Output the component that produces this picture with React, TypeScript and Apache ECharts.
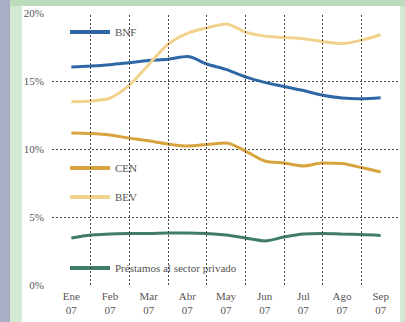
import React, { useEffect, useRef } from "react";
import * as echarts from "echarts";

// Month labels (category axis)
const months = ["Ene\n07", "Feb\n07", "Mar\n07", "Abr\n07", "May\n07", "Jun\n07", "Jul\n07", "Ago\n07", "Sep\n07"];

// Half-month sampling positions, in month units from Ene 07
const steps = [0, 0.5, 1, 1.5, 2, 2.5, 3, 3.5, 4, 4.5, 5, 5.5, 6, 6.5, 7, 7.5, 8];

// Boundaries between consecutive months on the 0..9 value axis
const monthBoundaries = [1, 2, 3, 4, 5, 6, 7, 8];

// Series values, in percent
const bnf = [16.03, 16.1, 16.2, 16.35, 16.5, 16.6, 16.8, 16.25, 15.85, 15.3, 14.9, 14.6, 14.3, 13.95, 13.75, 13.7, 13.77];
const bev = [13.48, 13.53, 13.75, 14.7, 16.2, 17.7, 18.5, 18.9, 19.2, 18.6, 18.3, 18.2, 18.1, 17.9, 17.75, 18.0, 18.4];
const cen = [11.18, 11.14, 11.03, 10.8, 10.6, 10.37, 10.22, 10.33, 10.44, 9.85, 9.12, 8.97, 8.75, 8.97, 8.93, 8.64, 8.31];
const privados = [3.46, 3.68, 3.75, 3.79, 3.79, 3.82, 3.82, 3.79, 3.68, 3.46, 3.24, 3.53, 3.75, 3.79, 3.75, 3.71, 3.64];

const seriesNames = ["BNF", "CEN", "BEV", "Préstamos al sector privado"];
const seriesColors = ["#2e67a5", "#d8a33c", "#f1d28c", "#3f7c6b"];
const seriesData = [bnf, cen, bev, privados];
const legendTops = [26, 162, 191, 262];

const FONT = "'Liberation Serif', 'DejaVu Serif', serif";

export default function App() {
  const ref = useRef<HTMLDivElement>(null);

  useEffect(() => {
    if (!ref.current) return;
    const chart = echarts.init(ref.current, undefined, { renderer: "svg" });

    // The hidden value axis runs 0..9; each month occupies one unit,
    // so a month's centre sits at index + 0.5.
    const lines = seriesData.map((vals, i) => ({
      name: seriesNames[i],
      type: "line",
      xAxisIndex: 1,
      data: vals.map((v, k) => [steps[k] + 0.5, v]),
      smooth: 0.3,
      symbol: "none",
      lineStyle: { color: seriesColors[i], width: 3 },
      itemStyle: { color: seriesColors[i] },
      z: 3,
    }));

    // Dotted vertical rules between months
    const monthRules = {
      name: "monthRules",
      type: "line",
      xAxisIndex: 1,
      data: [],
      silent: true,
      z: 1,
      markLine: {
        silent: true,
        symbol: "none",
        label: { show: false },
        lineStyle: { color: "#444", type: [2, 2], width: 1 },
        data: monthBoundaries.map((b) => ({ xAxis: b })),
      },
    };

    const legends = seriesNames.map((name, i) => ({
      data: [name],
      left: 70,
      top: legendTops[i],
      orient: "horizontal",
      icon: "rect",
      itemWidth: 40,
      itemHeight: 4,
      selectedMode: false,
      padding: 0,
      textStyle: { fontFamily: FONT, fontSize: 11, color: "#555", lineHeight: 12 },
    }));

    chart.setOption({
      animation: false,
      backgroundColor: "transparent",
      legend: legends,
      grid: { left: 52, right: 5, top: 13, bottom: 37, containLabel: false },
      xAxis: [
        {
          type: "category",
          data: months,
          boundaryGap: true,
          axisLine: { show: false },
          axisTick: { show: false },
          axisLabel: { fontFamily: FONT, fontSize: 11, color: "#555", lineHeight: 14, margin: 4, interval: 0 },
          splitLine: { show: false },
        },
        {
          type: "value",
          min: 0,
          max: 9,
          interval: 1,
          show: false,
        },
      ],
      yAxis: {
        type: "value",
        min: 0,
        max: 20,
        interval: 5,
        axisLine: { show: false },
        axisTick: { show: false },
        axisLabel: { formatter: "{value}%", fontFamily: FONT, fontSize: 11, color: "#555", margin: 8 },
        splitLine: {
          show: true,
          showMinLine: false,
          showMaxLine: false,
          lineStyle: { color: "#444", type: [2, 2], width: 1 },
        },
      },
      series: [monthRules, ...lines],
    });

    return () => chart.dispose();
  }, []);

  // Page backdrop: lilac strip, pale green frame and white panel behind the chart
  return (
    <div style={{ position: "fixed", left: 0, top: 0, width: 405, height: 322, background: "#d4e9d4" }}>
      <div style={{ position: "absolute", left: 0, top: 0, width: 10, height: 322, background: "#a9aec6" }} />
      <div style={{ position: "absolute", left: 10, top: 0, width: 395, height: 6, background: "#bcdcbc" }} />
      <div style={{ position: "absolute", left: 22, top: 6, width: 378, height: 316, background: "#ffffff" }} />
      <div ref={ref} style={{ position: "absolute", left: 0, top: 0, width: 405, height: 322 }} />
    </div>
  );
}
